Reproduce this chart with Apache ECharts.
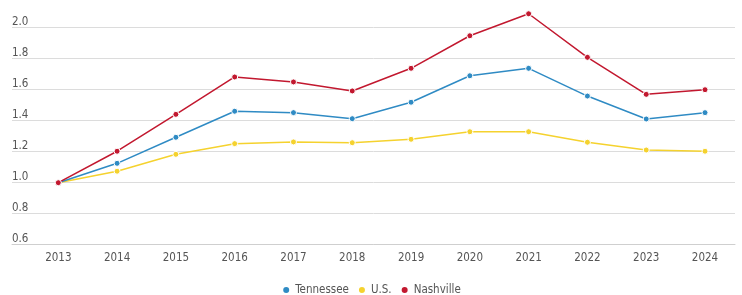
<!DOCTYPE html>
<html>
<head>
<meta charset="utf-8">
<script src="https://cdn.jsdelivr.net/npm/echarts@6/dist/echarts.min.js"></script>
<style>
  html, body { margin: 0; padding: 0; background: #fff; }
  #chart { width: 742px; height: 295px; }
</style>
</head>
<body>
<div id="chart"></div>
<script>
// values
var years = [2013, 2014, 2015, 2016, 2017, 2018, 2019, 2020, 2021, 2022, 2023, 2024];
var tennessee = [1.0, 1.125, 1.293, 1.461, 1.452, 1.413, 1.519, 1.690, 1.738, 1.559, 1.411, 1.452];
var us = [1.0, 1.074, 1.183, 1.252, 1.263, 1.258, 1.280, 1.329, 1.329, 1.261, 1.211, 1.203];
var nashville = [1.0, 1.203, 1.441, 1.682, 1.650, 1.592, 1.738, 1.948, 2.090, 1.809, 1.570, 1.600];

var FONT = '"Liberation Sans Narrow", "DejaVu Sans Condensed", "Roboto", sans-serif';

function pairs(vals) {
  return years.map(function (y, i) { return [y, vals[i]]; });
}

function line(name, color, vals, z) {
  return {
    name: name,
    type: 'line',
    data: pairs(vals),
    z: z,
    symbol: 'circle',
    symbolSize: 6,
    lineStyle: { color: color, width: 1.5 },
    itemStyle: { color: color, borderColor: '#fff', borderWidth: 1 },
    emphasis: { disabled: true }
  };
}

var chart = echarts.init(document.getElementById('chart'));
chart.setOption({
  animation: false,
  textStyle: { fontFamily: FONT },
  grid: { left: 12, right: 7, top: 12.2, bottom: 50.3 },
  legend: {
    left: 'center',
    top: 279,
    icon: 'circle',
    itemWidth: 8,
    itemHeight: 8,
    itemGap: 8,
    textStyle: { fontSize: 11.5, color: '#555', fontFamily: FONT },
    data: ['Tennessee', 'U.S.', 'Nashville']
  },
  xAxis: {
    type: 'value',
    min: 2012.2125,
    max: 2024.51,
    axisLine: { show: true, lineStyle: { color: '#cfcfcf' } },
    axisTick: { show: false },
    splitLine: { show: false },
    axisLabel: {
      customValues: years,
      color: '#555',
      fontSize: 11.5,
      margin: 7,
      formatter: function (v) { return String(v); }
    }
  },
  yAxis: {
    type: 'value',
    min: 0.6,
    max: 2.1,
    interval: 0.2,
    axisLine: { show: false },
    axisTick: { show: false },
    splitLine: { showMaxLine: false, lineStyle: { color: '#dcdcdc', width: 1 } },
    axisLabel: {
      inside: true,
      margin: 0,
      verticalAlign: 'bottom',
      color: '#555',
      fontSize: 11.5,
      showMaxLabel: false,
      formatter: function (v) { return v.toFixed(1); }
    }
  },
  series: [
    line('U.S.', '#f5d22e', us, 2),
    line('Tennessee', '#2f8bc4', tennessee, 3),
    line('Nashville', '#c2182f', nashville, 4)
  ]
});
</script>
</body>
</html>
